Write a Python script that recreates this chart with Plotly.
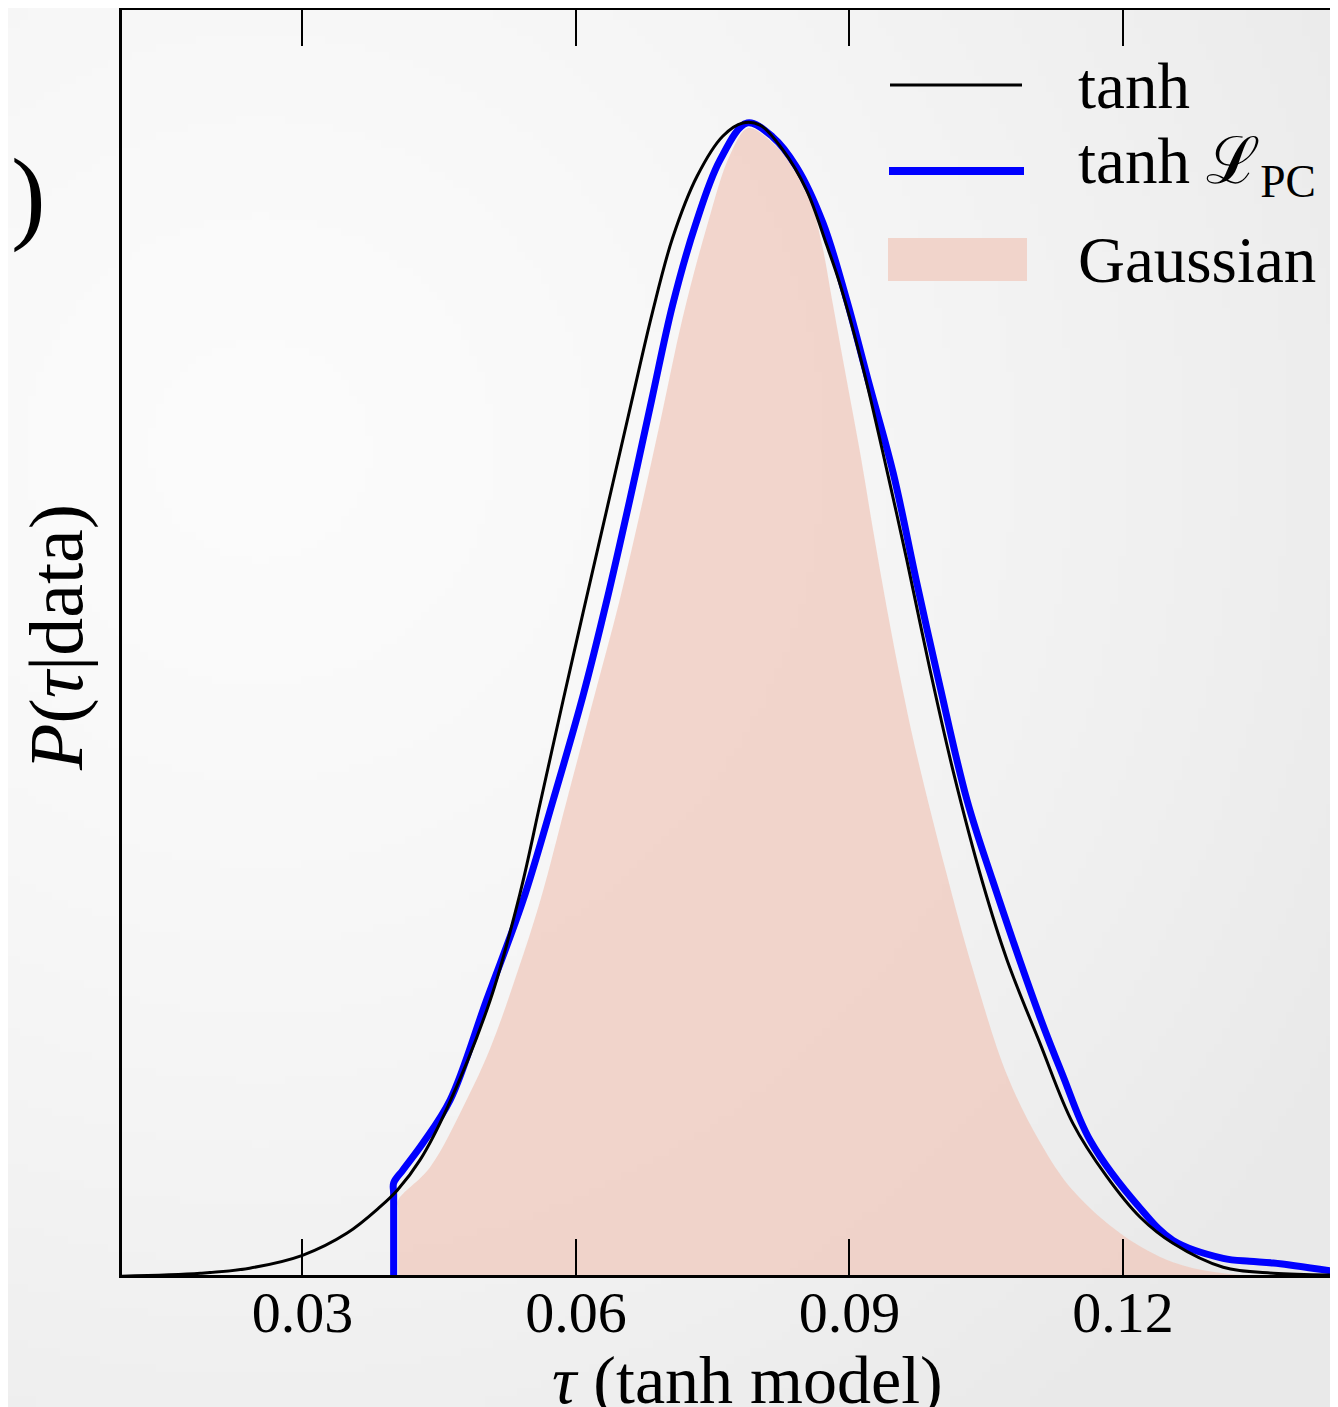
import zlib, struct, base64, math
import plotly.graph_objects as go

# ---------------- data ----------------
tau_tanh = [0.0100, 0.0188, 0.0242, 0.0300, 0.0349, 0.0385, 0.0404, 0.0429, 0.0459, 0.0506,
            0.0539, 0.0561, 0.0586, 0.0608, 0.0635, 0.0661, 0.0684, 0.0706, 0.0733, 0.0761,
            0.0783, 0.0802, 0.0827, 0.0853, 0.0875, 0.0890, 0.0915, 0.0941, 0.0963, 0.0988,
            0.1014, 0.1046, 0.1073, 0.1109, 0.1145, 0.1182, 0.1219, 0.1255, 0.1310, 0.1365,
            0.1436]
p_tanh = [0.02, 0.09, 0.21, 0.51, 1.03, 1.64, 2.03, 2.74, 3.97, 6.48,
          9.00, 11.10, 13.49, 15.55, 18.05, 20.46, 22.56, 24.29, 25.74, 26.67,
          26.98, 26.93, 26.35, 25.41, 24.13, 23.19, 21.25, 18.87, 16.76, 14.24,
          11.81, 9.23, 7.41, 5.47, 3.60, 2.36, 1.40, 0.79, 0.23, 0.09,
          0.05]

tau_pc = [0.0400, 0.0400, 0.0400, 0.0410, 0.0432, 0.0462, 0.0502, 0.0542, 0.0575, 0.0608,
          0.0634, 0.0659, 0.0683, 0.0706, 0.0731, 0.0758, 0.0788, 0.0816, 0.0842, 0.0871,
          0.0897, 0.0922, 0.0948, 0.0974, 0.0999, 0.1029, 0.1057, 0.1109, 0.1134, 0.1164,
          0.1219, 0.1255, 0.1310, 0.1339, 0.1365, 0.1436]
p_pc = [0.00, 1.95, 2.20, 2.50, 3.13, 4.14, 6.48, 8.81, 11.15, 13.61,
        15.83, 18.16, 20.50, 22.72, 24.59, 26.11, 26.98, 26.65, 25.95, 24.64,
        22.84, 20.85, 18.80, 16.22, 13.84, 11.15, 9.28, 6.08, 4.72, 3.20,
        1.61, 0.86, 0.44, 0.37, 0.33, 0.12]

tau_gauss = [0.0405, 0.0405, 0.0405, 0.0440, 0.0480, 0.0506, 0.0531, 0.0561, 0.0590, 0.0619,
             0.0648, 0.0671, 0.0694, 0.0717, 0.0744, 0.0769, 0.0789, 0.0816, 0.0838, 0.0857,
             0.0870, 0.0881, 0.0896, 0.0912, 0.0926, 0.0941, 0.0958, 0.0974, 0.1005, 0.1035,
             0.1073, 0.1109, 0.1145, 0.1200, 0.1255, 0.1310, 0.1383, 0.1436]
p_gauss = [0.00, 1.60, 1.80, 2.57, 4.14, 5.35, 6.83, 8.81, 11.15, 13.49,
           15.83, 17.93, 20.15, 22.42, 24.59, 26.23, 26.86, 26.51, 25.95, 25.18,
           24.13, 22.84, 21.09, 19.24, 17.46, 15.64, 13.77, 12.20, 9.56, 7.22,
           4.72, 3.16, 2.03, 0.98, 0.35, 0.09, 0.01, 0.00]

x_tickvals = [0.03, 0.06, 0.09, 0.12]
x_ticktext = ["0.03", "0.06", "0.09", "0.12"]
x_range = [0.0102, 0.1436]
y_range = [0.05, 29.62]

legend_labels = ["tanh", "tanh ℒ<sub>PC</sub>", "Gaussian"]

# ---------------- layout geometry ----------------
# page is rendered with an 8px body margin; the figure fills the rest of the window
OFF = 8
W, H = 1338 - OFF, 1407 - OFF
ML, MR, MT, MB = 114, 0, 2, 132
PW, PH = W - ML - MR, H - MT - MB
PLOT_L, PLOT_B = OFF + ML, OFF + H - MB   # plot area edges in window pixels
FONT = "Liberation Serif"
FILL = "rgba(240,199,187,0.72)"


def px(x, y):
    """window pixel -> paper coordinates"""
    return (x - PLOT_L) / PW, (PLOT_B - y) / PH


# soft background radial gradient as a small grayscale PNG
def gradient_png(gw, gh):
    rows = []
    cx, cy = 260.0, 450.0
    for j in range(gh):
        row = bytearray()
        yy = OFF + (j + 0.5) * H / gh
        for i in range(gw):
            xx = OFF + (i + 0.5) * W / gw
            d = math.hypot(xx - cx, yy - cy)
            v = 251 - 18 * min(1.0, d / 1250.0) ** 1.5
            row.append(int(round(v)))
        rows.append(b"\x00" + bytes(row))
    raw = b"".join(rows)

    def chunk(t, d):
        c = struct.pack(">I", len(d)) + t + d
        return c + struct.pack(">I", zlib.crc32(t + d) & 0xFFFFFFFF)

    png = (b"\x89PNG\r\n\x1a\n"
           + chunk(b"IHDR", struct.pack(">IIBBBBB", gw, gh, 8, 0, 0, 0, 0))
           + chunk(b"IDAT", zlib.compress(raw, 9))
           + chunk(b"IEND", b""))
    return "data:image/png;base64," + base64.b64encode(png).decode()


fig = go.Figure()

fig.add_trace(go.Scatter(
    x=tau_gauss, y=p_gauss, mode="lines", name="Gaussian",
    fill="tozeroy", fillcolor=FILL,
    line=dict(width=0, shape="spline", smoothing=1.0, color=FILL),
    showlegend=False, hoverinfo="skip"))
fig.add_trace(go.Scatter(
    x=tau_pc, y=p_pc, mode="lines", name="tanh ℒPC",
    line=dict(width=7, color="#0000ff", shape="spline", smoothing=1.0),
    showlegend=False))
fig.add_trace(go.Scatter(
    x=tau_tanh, y=p_tanh, mode="lines", name="tanh",
    line=dict(width=3, color="black", shape="spline", smoothing=1.0),
    showlegend=False))

# custom legend (long samples as in the reference)
shapes = []
x0, y0 = px(890, 85); x1, _ = px(1022, 85)
shapes.append(dict(type="line", xref="paper", yref="paper", x0=x0, x1=x1, y0=y0, y1=y0,
                   line=dict(color="black", width=3)))
x0, y0 = px(889, 171); x1, _ = px(1024, 171)
shapes.append(dict(type="line", xref="paper", yref="paper", x0=x0, x1=x1, y0=y0, y1=y0,
                   line=dict(color="#0000ff", width=8)))
x0, y0 = px(888, 281); x1, y1 = px(1027, 238)
shapes.append(dict(type="rect", xref="paper", yref="paper", x0=x0, x1=x1, y0=y0, y1=y1,
                   fillcolor=FILL, line=dict(width=0)))

annotations = []
for lab, yc in zip(legend_labels, [86, 166, 260]):
    ax, ay = px(1076, yc)
    annotations.append(dict(text=lab, xref="paper", yref="paper", x=ax, y=ay,
                            xanchor="left", yanchor="middle", showarrow=False,
                            font=dict(family=FONT, size=65, color="black")))

# axis titles
ax, ay = px(747, 1380)
annotations.append(dict(text="<i>τ</i> (tanh model)", xref="paper", yref="paper", x=ax, y=ay,
                        xanchor="center", yanchor="middle", showarrow=False,
                        font=dict(family=FONT, size=68, color="black")))
ax, ay = px(56, 638)
annotations.append(dict(text="<i>P</i>(<i>τ</i>|data)", xref="paper", yref="paper", x=ax, y=ay,
                        xanchor="center", yanchor="middle", showarrow=False, textangle=-90,
                        font=dict(family=FONT, size=76, color="black")))
# partially visible panel label
ax, ay = px(48, 195)
annotations.append(dict(text=")", xref="paper", yref="paper", x=ax, y=ay,
                        xanchor="right", yanchor="middle", showarrow=False,
                        font=dict(family=FONT, size=104, color="black")))

fig.update_layout(
    width=W, height=H,
    margin=dict(l=ML, r=MR, t=MT, b=MB, pad=0),
    paper_bgcolor="rgb(243,243,243)",
    plot_bgcolor="rgba(0,0,0,0)",
    showlegend=False,
    shapes=shapes,
    annotations=annotations,
    images=[dict(source=gradient_png(166, 175), xref="paper", yref="paper",
                 x=-ML / PW, y=1 + MT / PH, sizex=W / PW, sizey=H / PH,
                 sizing="stretch", xanchor="left", yanchor="top", layer="below")],
    xaxis=dict(range=x_range, tickvals=x_tickvals, ticktext=x_ticktext,
               ticks="inside", ticklen=36, tickwidth=2, tickcolor="black",
               showline=True, linewidth=3, linecolor="black", mirror="ticks",
               showgrid=False, zeroline=False, ticklabelstandoff=-16,
               tickfont=dict(family=FONT, size=58, color="black")),
    yaxis=dict(range=y_range, showticklabels=False, ticks="",
               showline=True, linewidth=3, linecolor="black", mirror=False,
               showgrid=False, zeroline=False),
)

fig.write_html("out.html")
